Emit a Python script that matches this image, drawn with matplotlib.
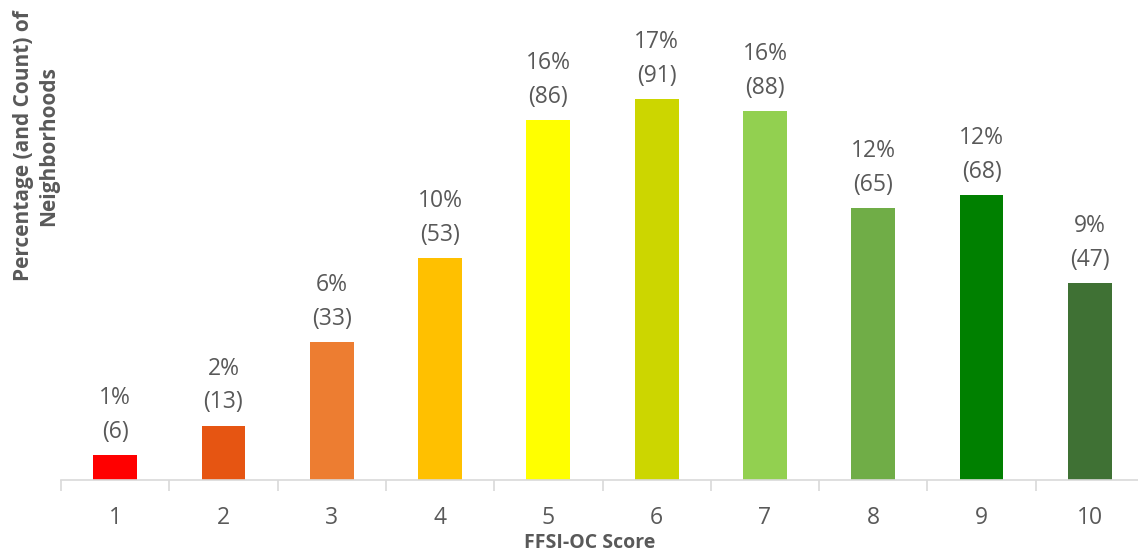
import matplotlib
matplotlib.use("Agg")
import matplotlib.pyplot as plt

categories = ["1", "2", "3", "4", "5", "6", "7", "8", "9", "10"]
counts = [6, 13, 33, 53, 86, 91, 88, 65, 68, 47]
pct_labels = ["1%", "2%", "6%", "10%", "16%", "17%", "16%", "12%", "12%", "9%"]
colors = ["#FF0000", "#E65512", "#ED7D31", "#FFC000", "#FFFF00",
          "#CCD600", "#92D050", "#70AD47", "#008000", "#3F7134"]

plt.rcParams['font.family'] = ['Open Sans', 'DejaVu Sans']
W, H = 1138, 555
fig = plt.figure(figsize=(W / 100, H / 100), dpi=100)
left_px, right_px, bottom_px, top_px = 61, 1138, 480, 61
ax = fig.add_axes([left_px / W, 1 - bottom_px / H, (right_px - left_px) / W, (bottom_px - top_px) / H])

x = list(range(1, len(categories) + 1))
ax.bar(x, counts, width=0.405, color=colors, zorder=2)
ax.set_xlim(0.5, 0.5 + (right_px - left_px) / 108.3)
ax.set_ylim(0, 100)

for xi, c, p in zip(x, counts, pct_labels):
    ax.annotate(f"{p}\n({c})", (xi, c), xytext=(0, 8), textcoords="offset points",
                ha="center", va="bottom", fontsize=16.5, color="#595959",
                linespacing=1.55, clip_on=False, annotation_clip=False)

for s in ["top", "right", "left"]:
    ax.spines[s].set_visible(False)
ax.spines["bottom"].set_color("#D9D9D9")
ax.spines["bottom"].set_linewidth(1.2)
ax.set_yticks([])
ax.set_xticks(x)
ax.set_xticklabels(categories, fontsize=16.5, color="#595959")
ax.tick_params(axis="x", length=0, pad=19)
minor = [i + 0.5 for i in range(0, len(categories))]
ax.set_xticks(minor, minor=True)
ax.tick_params(axis="x", which="minor", length=8, color="#D9D9D9", width=1.2)

fig.text(590 / W, 1 - 543 / H, "FFSI-OC Score", ha="center", va="center",
         fontsize=14, fontweight="bold", color="#595959")
fig.text(36 / W, 1 - 146 / H, "Percentage (and Count) of\nNeighborhoods", ha="center", va="center",
         rotation=90, fontsize=15, fontweight="bold", color="#595959", linespacing=1.25)

fig.savefig("out.png", dpi=100)
